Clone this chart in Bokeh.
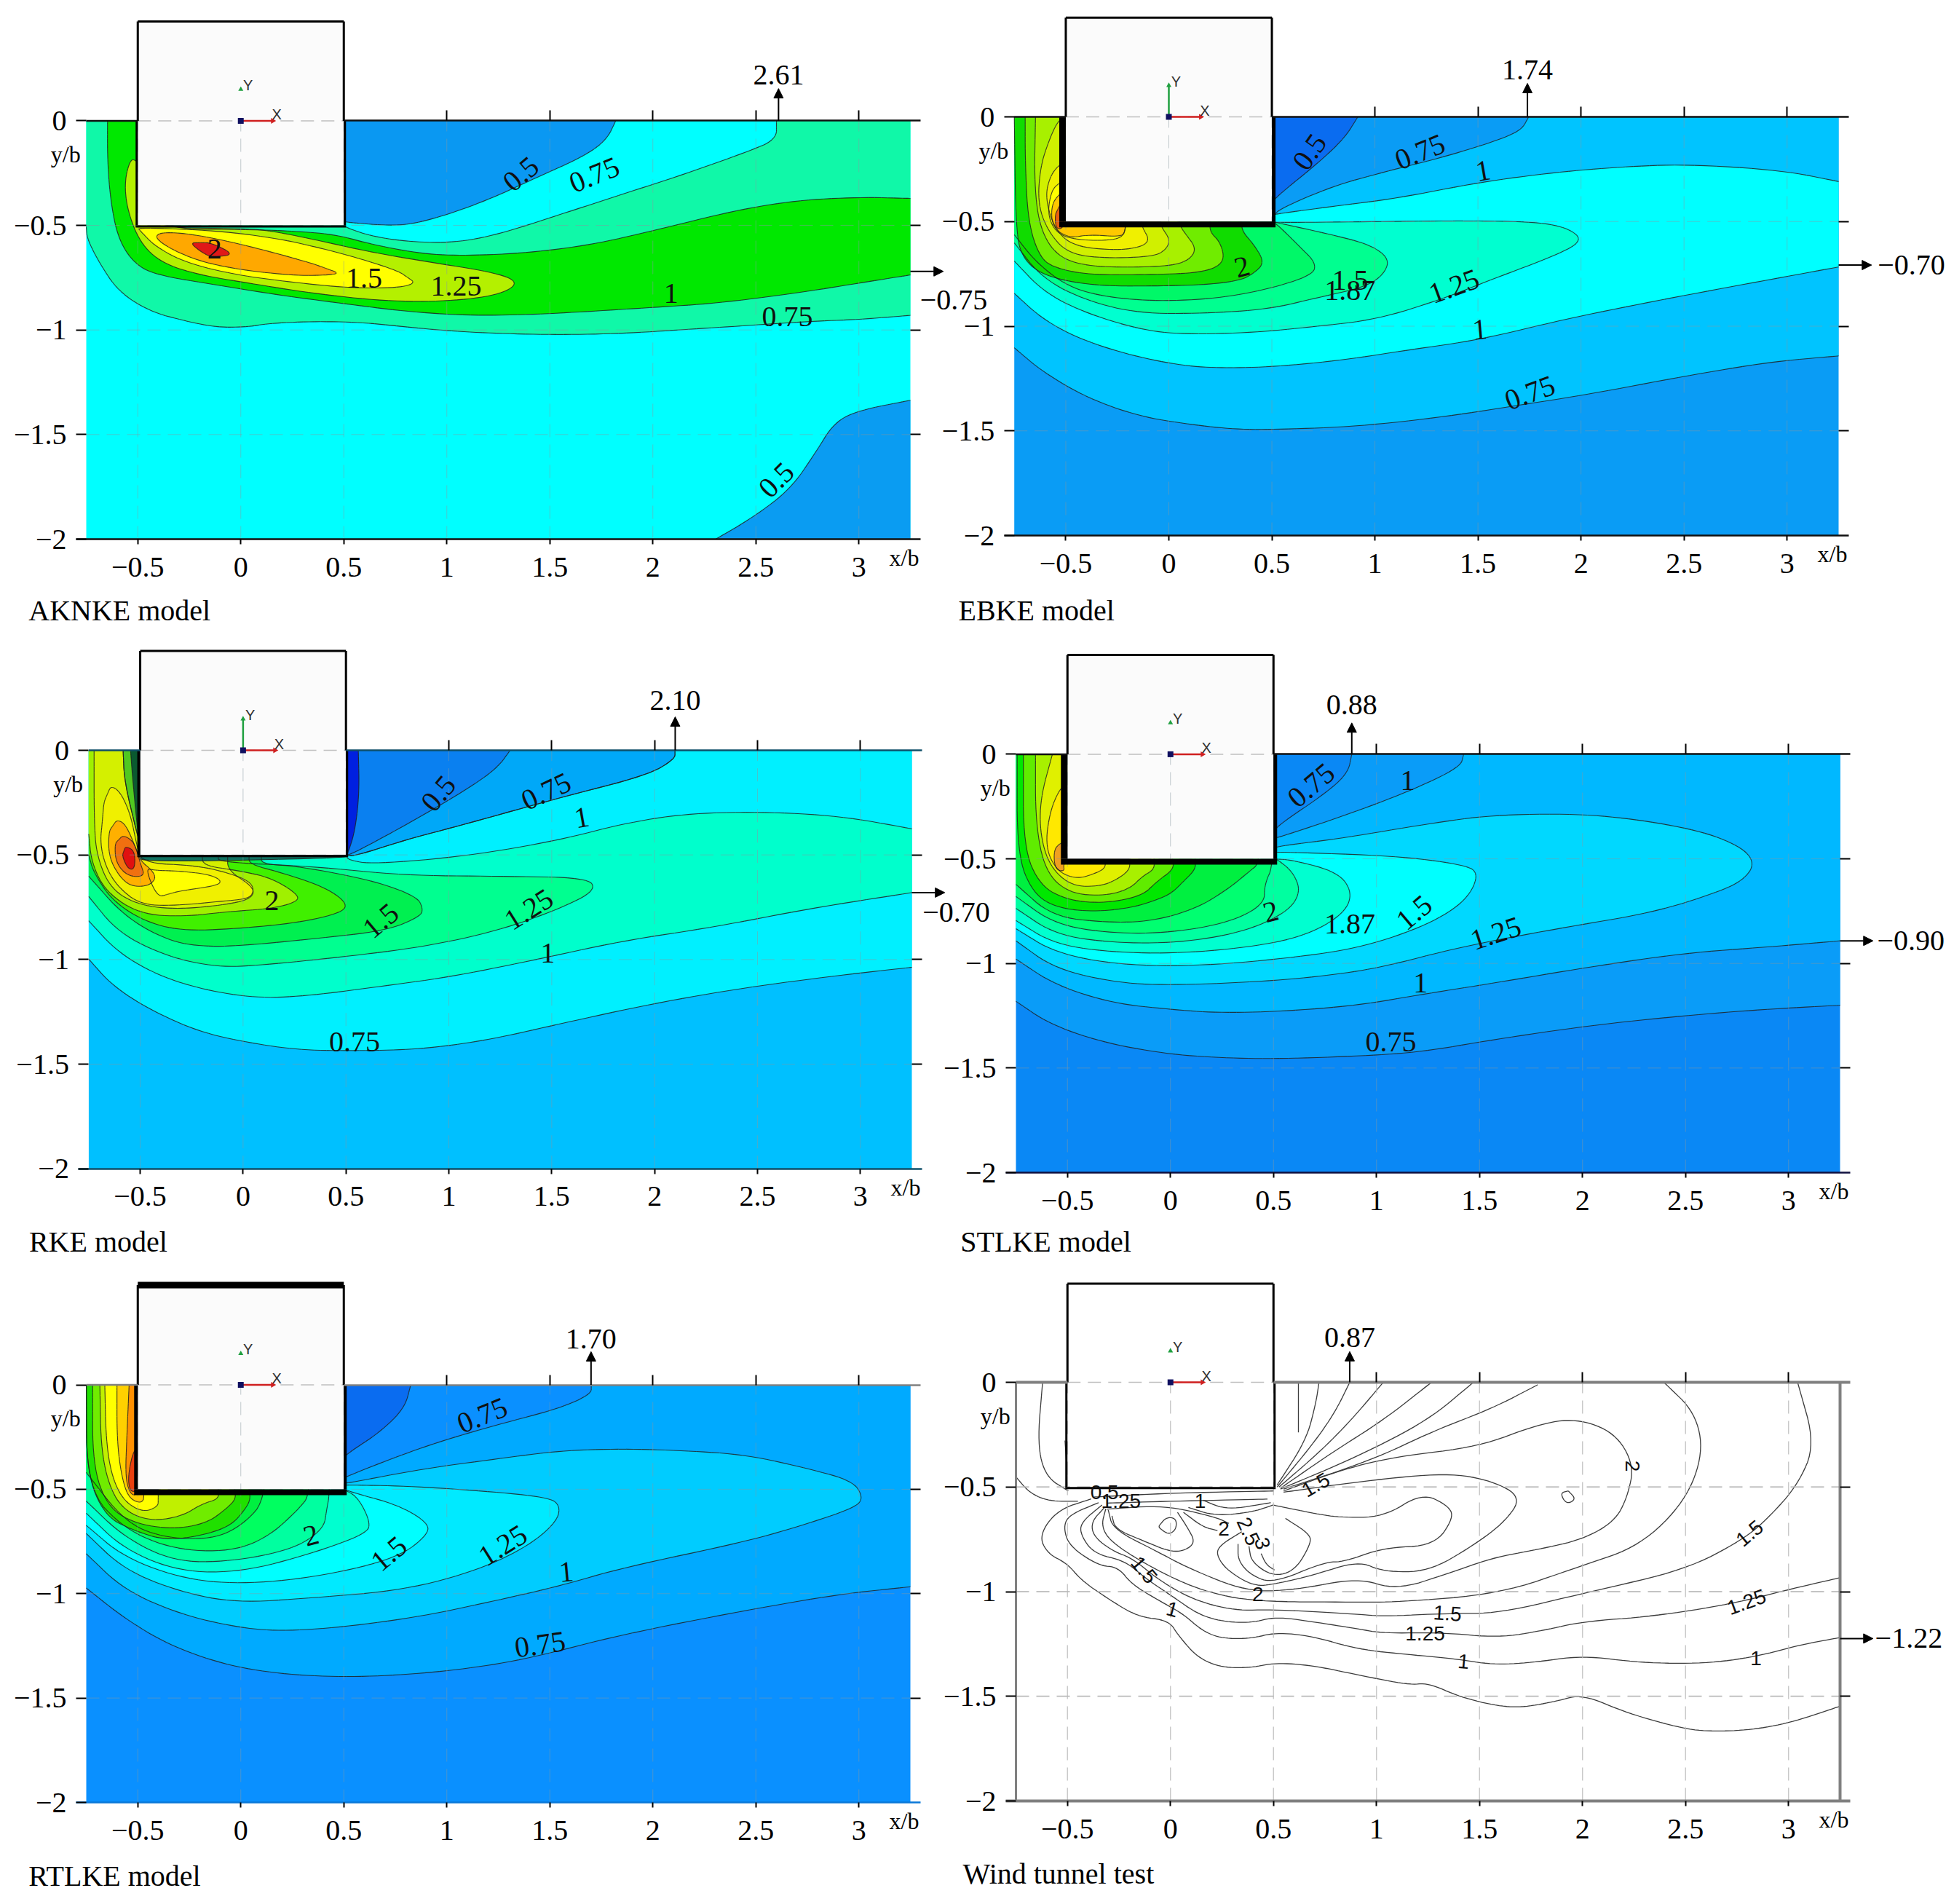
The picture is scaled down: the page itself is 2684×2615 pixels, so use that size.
from bokeh.plotting import figure
from bokeh.layouts import row, column
from bokeh.models import Range1d, LinearAxis, FixedTicker, Arrow, NormalHead
from bokeh.core.properties import value
from bokeh.embed import file_html
from bokeh.resources import INLINE

# ------------------------------------------------------------------ values
X_TICKS = [-0.5, 0, 0.5, 1, 1.5, 2, 2.5, 3]
Y_TICKS = [0, -0.5, -1, -1.5, -2]
X_TICK_TEXT = ["\u22120.5", "0", "0.5", "1", "1.5", "2", "2.5", "3"]
Y_TICK_TEXT = ["0", "\u22120.5", "\u22121", "\u22121.5", "\u22122"]

# AKNKE
P1_BLUE_TOP = [(1.82,0),(1.776,-.09),(1.67,-.168),(1.43,-.274),(1.217,-.371),(1.006,-.448),(.825,-.496),(.70,-.50),(.52,-.486),(.5,-.48),(.5,0)]
P1_BLUE_BOT = [(2.305,-2),(2.486,-1.896),(2.668,-1.761),(2.789,-1.587),(2.88,-1.442),(3.0,-1.384),(3.25,-1.336),(3.25,-2)]
P1_075 = [(2.6,0),(3.25,0),(3.25,-.93),(3,-.95),(2.758,-.959),(2.456,-.979),(2.154,-.998),(1.852,-1.017),(1.55,-1.023),(1.248,-1.017),(1.006,-1.004),(.795,-.985),(.583,-.963),(.341,-.959),(.13,-.969),(.039,-.985),(-.112,-.988),(-.263,-.959),(-.444,-.911),(-.595,-.815),(-.686,-.68),(-.746,-.564),(-.75,-.506),(-.75,0),(.5,0),(.5,-.5),(.523,-.515),(.644,-.554),(.825,-.579),(1.036,-.583),(1.248,-.544),(1.55,-.448),(1.852,-.351),(2.154,-.255),(2.456,-.149),(2.6,-.09)]
P1_100 = [(-.5,0),(-.5,-.515),(.1,-.521),(.281,-.529),(.462,-.544),(.644,-.593),(.885,-.637),(1.097,-.645),(1.399,-.631),(1.701,-.593),(2.003,-.525),(2.396,-.429),(2.698,-.38),(3,-.365),(3.25,-.371),(3.25,-.737),(3,-.776),(2.698,-.824),(2.305,-.873),(2.003,-.892),(1.701,-.911),(1.399,-.927),(1.097,-.931),(.795,-.911),(.492,-.873),(.19,-.834),(-.112,-.786),(-.414,-.737),(-.52,-.68),(-.595,-.564),(-.631,-.39),(-.647,-.197),(-.647,0)]
P1_125 = [(1.353,-.776),(1.248,-.728),(.946,-.68),(.644,-.631),(.341,-.564),(.16,-.529),(.039,-.515),(-.5,-.51),(-.5,-.197),(-.535,-.178),(-.565,-.293),(-.55,-.429),(-.489,-.583),(-.384,-.68),(-.202,-.737),(.039,-.776),(.341,-.824),(.704,-.863),(1.006,-.863),(1.248,-.834)]
P1_150 = [(.849,-.776),(.764,-.718),(.583,-.66),(.402,-.612),(.19,-.564),(-.112,-.525),(-.5,-.51),(-.489,-.525),(-.414,-.602),(-.263,-.68),(-.021,-.737),(.251,-.772),(.523,-.799),(.764,-.799)]
P1_175 = [(.477,-.728),(.341,-.68),(.13,-.622),(-.112,-.564),(-.293,-.535),(-.399,-.535),(-.414,-.564),(-.323,-.622),(-.172,-.68),(.039,-.718),(.281,-.741),(.432,-.737)]
P1_200 = [(-.248,-.583),(-.142,-.583),(-.027,-.641),(-.142,-.651),(-.187,-.631)]

# EBKE
P2_DARK = [(.5,0),(.917,0),(.854,-.1),(.73,-.216),(.511,-.39),(.5,-.42)]
P2_075 = [(1.746,0),(3.25,0),(3.25,-1.142),(2.912,-1.171),(2.507,-1.238),(2.039,-1.325),(1.727,-1.373),(1.353,-1.431),(.917,-1.479),(.542,-1.493),(.324,-1.493),(.106,-1.47),(-.143,-1.431),(-.393,-1.344),(-.611,-1.219),(-.75,-1.103),(-.75,0),(.5,0),(.5,-.47),(.51,-.47),(.542,-.438),(.792,-.332),(1.041,-.264),(1.353,-.187),(1.602,-.11),(1.712,-.062)]
P2_100 = [(-.75,0),(-.75,-.843),(-.611,-.968),(-.424,-1.065),(-.175,-1.142),(.075,-1.19),(.262,-1.2),(.511,-1.194),(.854,-1.161),(1.166,-1.113),(1.509,-1.065),(1.914,-.968),(2.351,-.881),(2.818,-.795),(3.25,-.717),(3.25,-.309),(2.974,-.255),(2.507,-.226),(2.195,-.239),(1.883,-.264),(1.509,-.312),(1.104,-.39),(.792,-.428),(.527,-.463),(.5,-.47),(.5,0)]
P2_125 = [(-.75,0),(-.75,-.689),(-.611,-.833),(-.424,-.93),(-.143,-1.016),(.075,-1.04),(.418,-1.03),(.698,-1.003),(1.01,-.968),(1.322,-.872),(1.571,-.775),(1.883,-.66),(2.008,-.592),(1.945,-.534),(1.79,-.501),(1.415,-.496),(.948,-.501),(.527,-.505),(.5,-.5),(.5,0)]
P2_150 = [(-.75,0),(-.75,-.602),(-.611,-.775),(-.393,-.881),(-.143,-.939),(.168,-.939),(.48,-.92),(.73,-.862),(.948,-.814),(1.041,-.756),(1.072,-.679),(.979,-.611),(.792,-.563),(.542,-.509),(.5,-.5),(.5,0)]
P2_187 = [(-.75,0),(-.75,-.563),(-.642,-.698),(-.486,-.814),(-.299,-.862),(-.05,-.881),(.231,-.868),(.48,-.824),(.698,-.756),(.714,-.698),(.636,-.621),(.527,-.515),(.5,-.5),(.5,0)]
P2_200 = [(-.75,0),(-.742,-.562),(-.706,-.678),(-.624,-.748),(-.483,-.788),(-.306,-.808),(-.07,-.808),(.165,-.803),(.342,-.783),(.412,-.748),(.465,-.696),(.412,-.609),(.359,-.551),(.35,-.5),(.35,0)]
P2_225 = [(-.697,0),(-.697,-.215),(-.683,-.504),(-.624,-.678),(-.541,-.725),(-.388,-.754),(-.129,-.754),(.106,-.748),(.224,-.725),(.271,-.678),(.248,-.597),(.2,-.551),(.2,-.5),(.2,0)]
P2_250 = [(-.647,0),(-.653,-.33),(-.624,-.539),(-.541,-.667),(-.4,-.713),(-.188,-.719),(.024,-.711),(.106,-.678),(.132,-.626),(.083,-.562),(.059,-.528),(.05,-.5),(.05,0)]
P2_265 = [(-.5,0),(-.536,-.017),(-.577,-.1),(-.624,-.238),(-.636,-.423),(-.577,-.562),(-.483,-.655),(-.306,-.676),(-.07,-.667),(-.012,-.632),(.006,-.586),(-.035,-.528),(-.04,-.5),(-.5,-.5)]
P2_275 = [(-.5,-.226),(-.53,-.226),(-.577,-.284),(-.6,-.388),(-.553,-.539),(-.459,-.62),(-.247,-.638),(-.129,-.62),(-.094,-.586),(-.129,-.528),(-.13,-.5),(-.5,-.5)]
P2_300 = [(-.5,-.313),(-.53,-.313),(-.571,-.354),(-.589,-.47),(-.541,-.562),(-.424,-.591),(-.247,-.588),(-.212,-.551),(-.21,-.5),(-.5,-.5)]
P2_325 = [(-.5,-.365),(-.53,-.365),(-.571,-.423),(-.565,-.528),(-.483,-.58),(-.388,-.562),(-.224,-.574),(-.212,-.539),(-.21,-.5),(-.5,-.5)]
P2_350 = [(-.524,-.412),(-.553,-.47),(-.547,-.539),(-.506,-.528)]

# RKE
P3_TOP_A = [(2.099,0),(2.099,-.042),(1.963,-.12),(1.54,-.226),(1.087,-.351),(.785,-.429),(.543,-.506),(.5,-.5),(.5,0)]
P3_TOP_B = [(1.298,0),(1.238,-.081),(1.117,-.168),(.905,-.293),(.694,-.409),(.527,-.496),(.5,-.5),(.5,0)]
P3_TOP_C = [(.5,0),(.56,0),(.565,-.2),(.545,-.38),(.512,-.486),(.5,-.5)]
P3_075 = [(2.099,0),(3.25,0),(3.25,-1.037),(2.9,-1.075),(2.446,-1.133),(1.993,-1.21),(1.54,-1.307),(1.238,-1.375),(.996,-1.413),(.784,-1.432),(.512,-1.436),(.27,-1.432),(.029,-1.398),(-.213,-1.346),(-.455,-1.239),(-.636,-1.124),(-.75,-.998),(-.75,0),(.5,0),(.5,-.5),(.543,-.506),(.785,-.429),(1.087,-.351),(1.54,-.226),(1.963,-.12),(2.099,-.042)]
P3_100 = [(-.75,0),(-.75,-.815),(-.606,-.969),(-.394,-1.085),(-.153,-1.153),(.089,-1.185),(.331,-1.172),(.633,-1.133),(.996,-1.085),(1.389,-1.008),(1.842,-.911),(2.295,-.844),(2.749,-.757),(3.25,-.68),(3.25,-.375),(2.9,-.313),(2.507,-.293),(2.144,-.303),(1.842,-.351),(1.54,-.429),(1.087,-.506),(.633,-.544),(.512,-.525),(.5,-.5),(.5,0)]
P3_125 = [(-.75,0),(-.75,-.699),(-.606,-.873),(-.364,-.988),(-.122,-1.037),(.089,-1.027),(.482,-.988),(.875,-.94),(1.238,-.863),(1.54,-.757),(1.715,-.67),(1.676,-.608),(1.238,-.602),(.784,-.598),(.331,-.554),(-.122,-.535),(-.12,-.5),(-.12,0)]
P3_150 = [(-.75,0),(-.75,-.602),(-.576,-.795),(-.364,-.911),(-.183,-.94),(.029,-.931),(.331,-.902),(.694,-.863),(.86,-.795),(.875,-.757),(.845,-.699),(.633,-.622),(.27,-.554),(.089,-.544),(.089,-.5),(.089,0)]
P3_175 = [(-.75,0),(-.75,-.5),(-.727,-.583),(-.636,-.718),(-.485,-.815),(-.304,-.863),(-.032,-.853),(.27,-.824),(.482,-.776),(.506,-.728),(.391,-.651),(.18,-.583),(.029,-.544),(.029,-.5),(.029,0)]
P3_200 = [(-.75,0),(-.75,-.4),(-.736,-.539),(-.665,-.679),(-.5,-.783),(-.288,-.795),(-.075,-.771),(.137,-.757),(.261,-.725),(.269,-.69),(.137,-.609),(-.028,-.574),(-.193,-.551),(-.2,-.5),(-.2,0)]
P3_225 = [(-.724,0),(-.724,-.331),(-.712,-.505),(-.641,-.667),(-.5,-.742),(-.311,-.76),(-.075,-.737),(.043,-.708),(.054,-.655),(-.075,-.574),(-.075,-.5),(-.5,-.5),(-.5,-.45),(-.524,-.365),(-.577,-.145),(-.583,0)]
P3_STRIP = [(-.583,0),(-.577,-.145),(-.524,-.365),(-.5,-.45),(-.5,0)]
P3_DARK = [(-.547,0),(-.535,-.157),(-.506,-.447),(-.5,-.45),(-.5,0)]
P3_LOBE_A = [(-.641,-.168),(-.677,-.249),(-.683,-.331),(-.695,-.447),(-.665,-.563),(-.606,-.655),(-.5,-.737),(-.335,-.743),(-.075,-.719),(.031,-.708),(.054,-.667),(.031,-.627),(-.052,-.592),(-.217,-.551),(-.494,-.539),(-.518,-.447),(-.547,-.307),(-.594,-.203)]
P3_LOBE_B = [(-.417,-.702),(-.311,-.673),(-.123,-.646),(-.105,-.621),(-.17,-.592),(-.311,-.577),(-.429,-.574),(-.476,-.563)]
P3_ORANGE = [(-.612,-.331),(-.653,-.389),(-.653,-.505),(-.606,-.597),(-.547,-.65),(-.465,-.65),(-.423,-.615),(-.441,-.574),(-.5,-.528),(-.529,-.447),(-.571,-.354)]
P3_DEEP = [(-.583,-.406),(-.624,-.447),(-.618,-.539),(-.559,-.603),(-.476,-.603),(-.5,-.539),(-.518,-.47),(-.541,-.429)]
P3_RED = [(-.571,-.458),(-.588,-.505),(-.559,-.568),(-.526,-.568),(-.526,-.481)]
P3_UNDER = [(-.5,-.5),(.5,-.5),(.5,-.515),(-.5,-.535)]

# STLKE
P4_075 = [(.88,0),(3.25,0),(3.25,-1.2),(2.874,-1.22),(2.499,-1.249),(2.031,-1.297),(1.563,-1.365),(1.22,-1.423),(.939,-1.442),(.534,-1.456),(.253,-1.452),(-.028,-1.432),(-.34,-1.375),(-.59,-1.288),(-.75,-1.181),(-.75,0),(.5,0),(.5,-.37),(.534,-.332),(.752,-.187),(.861,-.091)]
P4_100 = [(1.423,0),(3.25,0),(3.25,-.892),(2.905,-.921),(2.499,-.95),(2.031,-1.017),(1.563,-1.095),(1.251,-1.143),(.908,-1.201),(.534,-1.23),(.222,-1.236),(.003,-1.22),(-.278,-1.191),(-.559,-1.104),(-.75,-.979),(-.75,0),(.5,0),(.5,-.4),(.518,-.4),(.846,-.293),(1.158,-.178),(1.407,-.062)]
P4_125 = [(-.75,0),(-.75,-.892),(-.559,-1.027),(-.246,-1.095),(.034,-1.104),(.471,-1.085),(.783,-1.056),(1.033,-1.017),(1.407,-.921),(1.875,-.834),(2.343,-.757),(2.655,-.66),(2.78,-.602),(2.836,-.525),(2.78,-.448),(2.593,-.371),(2.281,-.313),(1.969,-.284),(1.563,-.29),(1.251,-.332),(.846,-.4),(.534,-.438),(.5,-.45),(.5,0)]
P4_150 = [(-.75,0),(-.75,-.834),(-.559,-.95),(-.246,-1.008),(.159,-1.012),(.627,-.969),(.939,-.921),(1.251,-.815),(1.438,-.699),(1.501,-.564),(1.407,-.525),(1.095,-.486),(.534,-.467),(.5,-.47),(.5,0)]
P4_187 = [(-.75,0),(-.75,-.795),(-.559,-.911),(-.246,-.95),(.097,-.95),(.471,-.911),(.69,-.853),(.846,-.757),(.883,-.66),(.814,-.564),(.596,-.506),(.5,-.5),(.5,0)]
P4_200 = [(-.75,0),(-.75,-.737),(-.559,-.863),(-.278,-.902),(.034,-.902),(.346,-.853),(.565,-.757),(.633,-.66),(.596,-.564),(.518,-.502),(.5,-.5),(.5,0)]
P4_225 = [(-.75,0),(-.75,-.68),(-.559,-.815),(-.278,-.857),(.003,-.853),(.284,-.805),(.456,-.718),(.456,-.622),(.502,-.525),(.5,0)]
P4_250 = [(-.75,0),(-.75,-.622),(-.574,-.776),(-.309,-.805),(-.09,-.799),(.128,-.737),(.284,-.641),(.378,-.564),(.44,-.515),(.44,0)]
P4_275 = [(-.744,0),(-.744,-.48),(-.667,-.666),(-.549,-.735),(-.373,-.753),(-.196,-.735),(-.078,-.7),(.004,-.666),(.063,-.608),(.122,-.55),(.12,-.5),(.12,0)]
P4_300 = [(-.714,0),(-.714,-.445),(-.632,-.631),(-.491,-.7),(-.314,-.712),(-.137,-.677),(-.066,-.608),(.016,-.55),(.01,-.5),(.01,0)]
P4_325 = [(-.655,0),(-.655,-.329),(-.608,-.561),(-.491,-.666),(-.314,-.677),(-.196,-.642),(-.137,-.584),(-.078,-.55),(-.08,-.5),(-.08,0)]
P4_350 = [(-.573,0),(-.632,-.213),(-.632,-.387),(-.585,-.538),(-.479,-.631),(-.337,-.631),(-.255,-.596),(-.196,-.55),(-.2,-.5),(-.5,-.5),(-.5,0)]
P4_375 = [(-.5,-.155),(-.532,-.155),(-.585,-.271),(-.608,-.445),(-.549,-.561),(-.455,-.596),(-.373,-.573),(-.314,-.544),(-.32,-.5),(-.5,-.5)]
P4_400 = [(-.5,-.42),(-.532,-.422),(-.567,-.457),(-.561,-.55),(-.514,-.561),(-.52,-.527),(-.5,-.5)]

# RTLKE
P5_DARK = [(.5,0),(.825,0),(.795,-.112),(.674,-.228),(.523,-.325),(.5,-.35)]
P5_075 = [(1.701,0),(3.25,0),(3.25,-.967),(2.909,-1.002),(2.456,-1.079),(1.852,-1.195),(1.399,-1.311),(1.097,-1.36),(.795,-1.389),(.492,-1.4),(.19,-1.385),(-.082,-1.34),(-.353,-1.244),(-.565,-1.118),(-.75,-.973),(-.75,0),(.5,0),(.5,-.45),(.508,-.441),(.704,-.364),(.946,-.277),(1.248,-.19),(1.55,-.112),(1.701,-.044)]
P5_100 = [(-.75,0),(-.75,-.809),(-.565,-.983),(-.293,-1.099),(-.021,-1.161),(.19,-1.18),(.492,-1.161),(.885,-1.108),(1.248,-1.031),(1.55,-.963),(1.852,-.876),(2.456,-.75),(2.758,-.663),(2.985,-.586),(3.021,-.538),(2.97,-.46),(2.758,-.402),(2.456,-.335),(2.154,-.315),(1.852,-.306),(1.55,-.315),(1.248,-.354),(.885,-.402),(.523,-.47),(.5,-.47),(.5,0)]
P5_125 = [(-.75,0),(-.75,-.712),(-.565,-.886),(-.293,-.992),(-.021,-1.044),(.341,-1.021),(.795,-.983),(1.157,-.886),(1.399,-.77),(1.535,-.654),(1.55,-.576),(1.489,-.538),(1.187,-.509),(.795,-.484),(.523,-.48),(.5,-.48),(.5,0)]
P5_150 = [(-.75,0),(-.75,-.673),(-.565,-.828),(-.263,-.934),(.039,-.954),(.402,-.915),(.764,-.828),(.915,-.712),(.9,-.654),(.764,-.576),(.553,-.518),(.5,-.5),(.5,0)]
P5_175 = [(-.75,0),(-.75,-.615),(-.565,-.789),(-.293,-.896),(.009,-.896),(.341,-.809),(.613,-.712),(.628,-.654),(.568,-.538),(.5,-.5),(.5,0)]
P5_200 = [(-.75,0),(-.75,-.557),(-.565,-.731),(-.323,-.847),(-.051,-.847),(.251,-.789),(.402,-.692),(.417,-.596),(.432,-.518),(.432,0)]
P5_225 = [(-.75,0),(-.746,-.499),(-.565,-.692),(-.323,-.789),(-.051,-.799),(.13,-.731),(.281,-.596),(.341,-.518),(.341,0)]
P5_250 = [(-.75,0),(-.75,-.42),(-.565,-.654),(-.384,-.731),(-.142,-.741),(.009,-.673),(.13,-.538),(.13,0)]
P5_275 = [(-.749,0),(-.749,-.419),(-.66,-.629),(-.519,-.698),(-.366,-.745),(-.189,-.722),(-.048,-.675),(.023,-.594),(.047,-.547),(.04,-.5),(.04,0)]
P5_300 = [(-.719,0),(-.719,-.384),(-.648,-.582),(-.519,-.663),(-.33,-.692),(-.166,-.663),(-.071,-.594),(-.024,-.547),(-.03,-.5),(-.03,0)]
P5_325 = [(-.684,0),(-.678,-.326),(-.625,-.524),(-.542,-.617),(-.425,-.652),(-.283,-.628),(-.189,-.57),(-.107,-.547),(-.11,-.5),(-.11,0)]
P5_350 = [(-.66,0),(-.654,-.268),(-.625,-.443),(-.566,-.559),(-.472,-.611),(-.401,-.582),(-.401,-.547),(-.4,-.5),(-.5,-.5),(-.5,0)]
P5_375 = [(-.601,0),(-.601,-.268),(-.578,-.443),(-.542,-.547),(-.472,-.57),(-.47,-.5),(-.5,-.5),(-.5,0)]
P5_400 = [(-.542,0),(-.554,-.268),(-.56,-.443),(-.537,-.524),(-.5,-.53),(-.5,0)]
P5_425 = [(-.5,-.3),(-.525,-.326),(-.548,-.443),(-.537,-.512),(-.5,-.51)]

# Wind tunnel contour lines
W_A = [(-.385,-.557),(-.549,-.61),(-.638,-.731),(-.597,-.818),(-.502,-.865),(-.432,-.946),(-.314,-1.027),(-.161,-1.12),(-.008,-1.137),(.04,-1.212),(.134,-1.317),(.251,-1.363),(.393,-1.363),(.51,-1.34),(.687,-1.352),(.911,-1.398),(1.158,-1.446),(1.251,-1.436),(1.407,-1.504),(1.594,-1.548),(1.719,-1.552),(1.875,-1.523),(2,-1.49),(2.218,-1.581),(2.499,-1.658),(2.655,-1.668),(2.842,-1.658),(3.03,-1.62),(3.248,-1.548)]
W_B = [(-.349,-.575),(-.491,-.633),(-.52,-.691),(-.491,-.783),(-.349,-.876),(-.255,-.882),(-.184,-.969),(-.031,-1.056),(.063,-1.108),(.157,-1.189),(.251,-1.224),(.393,-1.224),(.51,-1.195),(.687,-1.212),(.911,-1.276),(1.158,-1.301),(1.376,-1.32),(1.563,-1.349),(1.75,-1.34),(2,-1.305),(2.281,-1.34),(2.593,-1.344),(2.842,-1.311),(3.061,-1.253),(3.248,-1.22)]
W_C = [(-.332,-.586),(-.432,-.667),(-.438,-.725),(-.373,-.818),(-.22,-.853),(-.125,-.934),(.016,-1.027),(.134,-1.108),(.251,-1.143),(.393,-1.149),(.51,-1.12),(.687,-1.143),(.911,-1.178),(1.033,-1.199),(1.314,-1.195),(1.594,-1.22),(1.813,-1.185),(2,-1.143),(2.343,-1.118),(2.718,-1.06),(3.03,-.983),(3.248,-.934)]
W_D = [(3.045,-.004),(3.129,-.297),(3.045,-.49),(2.905,-.645),(2.78,-.751),(2.499,-.896),(2.031,-1.002),(1.594,-1.104),(1.345,-1.104),(1.033,-1.118),(.911,-1.108),(.51,-1.085),(.31,-1.091),(.11,-1.039),(-.055,-.946),(-.184,-.841),(-.279,-.807),(-.373,-.737),(-.385,-.667),(-.32,-.598)]
W_E = [(2.399,-.004),(2.546,-.143),(2.587,-.336),(2.499,-.568),(2.281,-.78),(2,-.876),(1.594,-1.012),(1.095,-1.05),(.911,-1.05),(.405,-1.048),(.157,-.998),(-.067,-.899),(-.279,-.772),(-.337,-.691),(-.314,-.604)]
W_S1 = [(.721,0),(.705,-.104),(.658,-.278),(.518,-.49)]
W_S2 = [(.87,0),(.799,-.143),(.69,-.297),(.518,-.5)]
W_S3 = [(1.033,0),(.877,-.181),(.721,-.336),(.527,-.5)]
W_S4 = [(1.267,0),(1.033,-.181),(.783,-.336),(.534,-.506)]
W_S5 = [(1.47,0),(1.251,-.181),(.908,-.355),(.534,-.51)]
W_S6 = [(1.782,-.012),(1.563,-.124),(1.282,-.23),(.97,-.375),(.549,-.51)]
W_F = [(.549,-.519),(.846,-.413),(1.095,-.355),(1.501,-.307),(1.782,-.201),(1.969,-.172),(2.156,-.239),(2.25,-.394),(2.218,-.548),(2.156,-.664),(2,-.751),(1.782,-.799),(1.563,-.838),(1.345,-.915),(1.095,-.992),(.911,-.934),(.605,-.992),(.369,-1.0),(.087,-.888),(-.067,-.807),(-.279,-.702),(-.302,-.61)]
W_G = [(.549,-.525),(.939,-.471),(1.345,-.432),(1.563,-.471),(1.704,-.548),(1.626,-.664),(1.47,-.78),(1.251,-.905),(1.033,-.905),(.911,-.853),(.687,-.923),(.51,-.963),(.405,-.975),(.275,-.899),(.222,-.824),(.24,-.778),(.346,-.714)]
W_H = [(.502,-.587),(.69,-.625),(.814,-.645),(1.033,-.645),(1.22,-.529),(1.345,-.587),(1.376,-.645),(1.282,-.78),(1.033,-.79),(.846,-.857),(.746,-.859),(.499,-.96),(.393,-.923),(.328,-.853),(.328,-.772)]
W_I = [(.381,-.783),(.393,-.859),(.499,-.928),(.605,-.899),(.681,-.772),(.676,-.725),(.558,-.65)]
W_I2 = [(.44,-.818),(.464,-.87),(.505,-.897)]
W_J = [(1.931,-.519),(1.969,-.558),(1.922,-.583),(1.891,-.529),(1.931,-.519)]
W_K = [(-.055,-.685),(-.02,-.644),(.028,-.65),(.028,-.702),(-.008,-.728),(-.055,-.696),(-.055,-.685)]
W_L = [(-.284,-.638),(-.267,-.702),(-.125,-.76),(-.008,-.807),(.063,-.807),(.122,-.766),(.081,-.691),(.034,-.621)]
W_M = [(-.621,-.004),(-.646,-.297),(-.605,-.452),(-.496,-.519)]
W_N = [(-.75,-.452),(-.683,-.529),(-.59,-.568),(-.449,-.568)]
W_O = [(-.512,-.278),(-.496,-.51)]
W_P = [(.621,-.004),(.621,-.239)]
W_Q = [(-.371,-.548),(.003,-.529),(.502,-.519)]
W_R = [(-.309,-.577),(.003,-.568),(.471,-.558)]
W_T = [(-.309,-.606),(-.028,-.587),(.222,-.645),(.284,-.674)]
W_U = [(.063,-.621),(.157,-.691),(.228,-.708)]
W_V = [(.087,-.598),(.216,-.638),(.393,-.621),(.499,-.586)]
W_X = [(.157,-.563),(.275,-.61),(.487,-.575)]

# contour labels: (x/b, y/b, text, angle)
P1_LABELS = [(1.36,-.255,"0.5",40),(1.716,-.259,"0.75",22),(-.127,-.612,"2",0),(.598,-.753,"1.5",0),(1.045,-.79,"1.25",0),(2.088,-.824,"1",0),(2.653,-.936,"0.75",0),(2.6,-1.718,"0.5",45)]
P2_LABELS = [(.683,-.168,"0.5",55),(1.219,-.168,"0.75",22),(1.525,-.258,"1",10),(.355,-.717,"2",15),(.88,-.78,"1.5",0),(.879,-.829,"1.87",0),(1.384,-.81,"1.25",20),(1.509,-1.016,"1",5),(1.752,-1.319,"0.75",20)]
P3_LABELS = [(.95,-.207,"0.5",50),(1.473,-.197,"0.75",25),(1.646,-.322,"1",10),(.14,-.718,"2",0),(.669,-.815,"1.5",40),(1.389,-.761,"1.25",32),(1.48,-.969,"1",0),(.542,-1.394,"0.75",0)]
P4_LABELS = [(.683,-.149,"0.75",40),(1.151,-.124,"1",0),(.487,-.753,"2",15),(.87,-.811,"1.87",0),(1.183,-.757,"1.5",40),(1.579,-.857,"1.25",18),(1.214,-1.095,"1",0),(1.07,-1.375,"0.75",0)]
P5_LABELS = [(1.172,-.147,"0.75",22),(.341,-.721,"2",15),(.719,-.809,"1.5",40),(1.272,-.77,"1.25",32),(1.58,-.896,"1",5),(1.453,-1.244,"0.75",8)]
P6_LABELS = [(.705,-.49,"1.5",30),(-.24,-.568,"1.25",0),(-.32,-.525,"0.5",0),(.144,-.568,"1",0),(.259,-.699,"2",0),(.378,-.712,"2.5",-65),(.446,-.77,"3",-75),(-.128,-.896,"1.5",-50),(.009,-1.085,"1",-15),(.424,-1.012,"2",0),(1.345,-1.104,"1.5",-4),(1.236,-1.199,"1.25",0),(1.423,-1.334,"1",-5),(2.842,-1.317,"1",0),(2.796,-1.05,"1.25",20),(2.811,-.722,"1.5",40),(2.243,-.4,"2",-90)]

# extreme-position annotations
UP_VALUES = [2.61, 1.74, 2.10, 0.88, 1.70, 0.87]
RIGHT_VALUES = [-0.75, -0.70, -0.70, -0.90, None, -1.22]
CAPTIONS = ["AKNKE model", "EBKE model", "RKE model", "STLKE model", "RTLKE model", "Wind tunnel test"]

# ------------------------------------------------------------------ styles and layout
SERIF = "Liberation Serif"
SANS = "Liberation Sans"
LEFT_CELL = (0, 1362)
RIGHT_CELL = (1282, 2680)
ROWS = [(0, 872), (872, 1737), (1737, 2599)]

PANELS = [
    dict(cal=(118, 1250, 165.4, 740), cell=LEFT_CELL, row=ROWS[0], base="#00ffff",
         bands=[("#0a98f2", P1_BLUE_TOP), ("#0a9cf2", P1_BLUE_BOT), ("#10f8a8", P1_075), ("#00e800", P1_100),
                ("#b4f000", P1_125), ("#ffff00", P1_150), ("#ffa800", P1_175), ("#e01818", P1_200)],
         labels=P1_LABELS, box=(3, 3, 3, 3), box_top=.475, green="dot", top_col="#101010", bot_col="#101010",
         up_tip=.154, up_text=.218, right_y=-.72, right_text=(3.46, -.858, "center"), caption=(-1.03, -2.341)),
    dict(cal=(1392.7, 2525, 160, 735), cell=RIGHT_CELL, row=ROWS[0], base="#0a9cf5",
         bands=[("#0a6cf0", P2_DARK), ("#00c4ff", P2_075), ("#00ffff", P2_100), ("#00ffd0", P2_125), ("#00ff90", P2_150),
                ("#00f868", P2_187), ("#10dc00", P2_200), ("#70ec00", P2_225), ("#a8f000", P2_250), ("#d0f000", P2_265),
                ("#f0f000", P2_275), ("#ffff00", P2_300), ("#ffc800", P2_325), ("#e86010", P2_350)],
         labels=P2_LABELS, box=(9, 5, 3, 8), box_top=.474, green="line", top_col="#101010", bot_col="#101010",
         up_tip=.16, up_text=.224, right_y=-.708, right_text=(3.44, -.708, "left"), caption=(-1.021, -2.358)),
    dict(cal=(121.4, 1252, 1030, 1604.7), cell=LEFT_CELL, row=ROWS[1], base="#00c0ff",
         bands=[("#00a8f8", P3_TOP_A), ("#00f0ff", P3_075), ("#0a80f0", P3_TOP_B), ("#0020e0", P3_TOP_C), ("#00ffcc", P3_100),
                ("#00ff90", P3_125), ("#00f050", P3_150), ("#40f000", P3_175), ("#a0f000", P3_200), ("#d4f000", P3_225),
                ("#50c820", P3_STRIP), ("#0a5a30", P3_DARK), ("#f0f000", P3_LOBE_A), ("#ffff00", P3_LOBE_B),
                ("#ffb000", P3_ORANGE), ("#f07010", P3_DEEP), ("#e01010", P3_RED), ("#107060", P3_UNDER)],
         labels=P3_LABELS, box=(4, 3, 3, 3), box_top=.475, green="line", top_col="#10506a", bot_col="#10506a",
         up_tip=.16, up_text=.237, right_y=-.68, right_text=(3.466, -.776, "center"), caption=(-1.04, -2.349)),
    dict(cal=(1395, 2527, 1035.4, 1610), cell=RIGHT_CELL, row=ROWS[1], base="#0a88f5",
         bands=[("#0a9cf8", P4_075), ("#00b8ff", P4_100), ("#00d8ff", P4_125), ("#00ffff", P4_150), ("#00ffd0", P4_187),
                ("#00ffa0", P4_200), ("#00ff70", P4_225), ("#00f040", P4_250), ("#00e800", P4_275), ("#60ec00", P4_300),
                ("#a8f000", P4_325), ("#e0f000", P4_350), ("#ffe800", P4_375), ("#f0a020", P4_400)],
         labels=P4_LABELS, box=(9, 5, 3, 8), box_top=.475, green="dot", top_col="#101010", bot_col="#101040",
         up_tip=.15, up_text=.237, right_y=-.892, right_text=(3.43, -.892, "left"), caption=(-1.019, -2.33)),
    dict(cal=(118, 1250, 1901.5, 2475), cell=LEFT_CELL, row=ROWS[2], base="#0a90ff",
         bands=[("#0a6cf0", P5_DARK), ("#00aaff", P5_075), ("#00ccff", P5_100), ("#00eaff", P5_125), ("#00ffff", P5_150),
                ("#00ffd0", P5_175), ("#00ffa0", P5_200), ("#00ff60", P5_225), ("#00f040", P5_250), ("#20e000", P5_275),
                ("#70ec00", P5_300), ("#c0f000", P5_325), ("#ffff00", P5_350), ("#ffd000", P5_375), ("#ff9000", P5_400),
                ("#e84010", P5_425)],
         labels=P5_LABELS, box=(5, 4, 9, 8), box_top=.478, green="dot", top_col="#808080", bot_col="#0a78d8",
         up_tip=.159, up_text=.22, right_y=None, right_text=None, caption=(-1.03, -2.352)),
    dict(cal=(1395, 2527, 1898, 2473), cell=RIGHT_CELL, row=ROWS[2], base=None, bands=[],
         labels=P6_LABELS, box=(3, 3, 3, 3), box_top=.471, green="dot", top_col="#808080", bot_col="#808080",
         up_tip=.147, up_text=.214, right_y=-1.224, right_text=(3.42, -1.224, "left"), caption=(-1.008, -2.348)),
]
WIND_LINES = [W_A, W_B, W_C, W_D, W_E, W_S1, W_S2, W_S3, W_S4, W_S5, W_S6, W_F, W_G, W_H, W_I, W_I2, W_J, W_K, W_L,
              W_M, W_N, W_O, W_P, W_Q, W_R, W_T, W_U, W_V, W_X]
NEG = "\u2212"


def is_fixed(q):
    """Points on the domain border or under the building stay as corners when a contour is drawn."""
    return q[0] in (-.75, 3.25) or q[1] in (0, -2) or (abs(q[0]) <= .5 and q[1] >= -.5)


def round_run(run, passes=3):
    """Corner-cut a contour run for drawing; both ends stay where they were read."""
    for _ in range(passes):
        out = [run[0]]
        for a, b in zip(run[:-1], run[1:]):
            out.append((.75 * a[0] + .25 * b[0], .75 * a[1] + .25 * b[1]))
            out.append((.25 * a[0] + .75 * b[0], .25 * a[1] + .75 * b[1]))
        out.append(run[-1])
        run = out
    return run


def round_band(poly):
    fixed = [k for k, q in enumerate(poly) if is_fixed(q)]
    if not fixed:
        mid = ((poly[0][0] + poly[1][0]) / 2, (poly[0][1] + poly[1][1]) / 2)
        return round_run([mid] + poly[1:] + [poly[0], mid])[:-1]
    out = []
    m = len(poly)
    for i0, i1 in zip(fixed, fixed[1:] + [fixed[0] + m]):
        run = [poly[k % m] for k in range(i0, i1 + 1)]
        out.extend(round_run(run)[:-1] if len(run) > 2 else run[:-1])
    return out


def outline(poly):
    """Contour pieces of a band: its edge without the stretches on the domain border."""
    xs, ys = [], []
    pts = poly + [poly[0]]
    for a, b in zip(pts[:-1], pts[1:]):
        on_border = (a[0] == b[0] and a[0] in (-.75, 3.25)) or (a[1] == b[1] and a[1] in (0, -2))
        if not on_border:
            xs.append([a[0], b[0]])
            ys.append([a[1], b[1]])
    return xs, ys


def build(i, P):
    xm, xr, y0, y2 = P["cal"]
    L, R = P["cell"]
    T, B = P["row"]
    sx = (xr - xm) / 4.0
    sy = (y2 - y0) / 2.0
    wind = i == 5
    p = figure(width=R - L, height=B - T, output_backend="svg", toolbar_location=None, tools="",
               x_axis_type=None, y_axis_type=None, min_border=0,
               x_range=Range1d(-.75 - (xm - L) / sx, 3.25 + (R - xr) / sx),
               y_range=Range1d(-2 - (B - y2) / sy, (y0 - T) / sy),
               margin=(0, 0, 0, -80) if i % 2 else 0)
    p.outline_line_color = None
    p.background_fill_alpha = 0
    p.border_fill_alpha = 0

    if P["base"]:
        p.quad(left=[-.75], right=[3.25], bottom=[-2], top=[0], fill_color=P["base"], line_color=None)
    rounded = [(c, round_band(q)) for c, q in P["bands"]]
    for color, poly in rounded:
        p.patch([q[0] for q in poly], [q[1] for q in poly], fill_color=color, line_color=None)
    for color, poly in rounded:
        xs, ys = outline(poly)
        p.multi_line(xs, ys, line_color="#202020", line_width=1.1, line_alpha=.85)
    if wind:
        curves = [round_run(c) for c in WIND_LINES]
        p.multi_line([[q[0] for q in c] for c in curves], [[q[1] for q in c] for c in curves],
                     line_color="#3c3c3c", line_width=1.3)

    # building section
    top = P["box_top"]
    p.quad(left=[-.5], right=[.5], bottom=[-.5], top=[top], fill_color="#ffffff" if wind else "#fbfbfb", line_color=None)

    # dashed grid, over the fill and the building
    grid_col = "#b8b8b8" if wind else "#8898a0"
    galpha = .85 if wind else .5
    p.segment(X_TICKS, [-2] * len(X_TICKS), X_TICKS, [0] * len(X_TICKS), line_color=grid_col, line_alpha=galpha,
              line_width=1.3 if wind else 1, line_dash="18 10")
    p.segment([-.75] * 3, Y_TICKS[1:4], [3.25] * 3, Y_TICKS[1:4], line_color=grid_col, line_alpha=galpha,
              line_width=2 if wind else 1, line_dash="18 10")
    p.segment([-.5], [0], [.5], [0], line_color="#c0c0c0", line_width=1.5, line_dash="18 10")

    # building outline: thin above the roof line y/b = 0, heavier along the section below it
    wl, wr, wt, wb = P["box"]
    p.segment([-.5, .5], [0, 0], [-.5, .5], [top, top], line_color="black", line_width=3)
    p.segment([-.5 - wl / 2 / sx], [-.5], [-.5 - wl / 2 / sx], [0], line_color="black", line_width=wl)
    p.segment([.5 + wr / 2 / sx], [-.5], [.5 + wr / 2 / sx], [0], line_color="black", line_width=wr)
    p.segment([-.5], [top], [.5], [top], line_color="black", line_width=wt)
    p.segment([-.5 - wl / sx], [-.5 - wb / 2 / sy], [.5 + wr / sx], [-.5 - wb / 2 / sy], line_color="black", line_width=wb)

    # axes: fixed at the data limits, so the frame can hold all annotations
    xa = LinearAxis(fixed_location=-2, ticker=FixedTicker(ticks=X_TICKS), bounds=(-.8, 3.3),
                    major_label_overrides=dict(zip(X_TICKS, X_TICK_TEXT)), major_tick_out=7, major_tick_in=0,
                    minor_tick_line_color=None, major_label_standoff=18, axis_line_width=4 if wind else 2.5,
                    axis_line_color=P["bot_col"], major_tick_line_width=2,
                    major_label_text_font=SERIF, major_label_text_font_size="40px", major_label_text_color="black")
    p.add_layout(xa, "below")
    ya = LinearAxis(fixed_location=-.75, ticker=FixedTicker(ticks=Y_TICKS), bounds=(-2, 0),
                    axis_line_color="#808080" if wind else None, axis_line_width=3,
                    major_label_overrides=dict(zip(Y_TICKS, Y_TICK_TEXT)), major_tick_out=14, major_tick_in=0,
                    minor_tick_line_color=None, major_label_standoff=13, major_tick_line_width=2,
                    major_label_text_font=SERIF, major_label_text_font_size="40px", major_label_text_color="black")
    p.add_layout(ya, "left")
    ta = LinearAxis(fixed_location=0, ticker=FixedTicker(ticks=X_TICKS[3:]), bounds=(.5, 3.3),
                    major_tick_out=14, major_tick_in=0, minor_tick_line_color=None, axis_line_width=4 if wind else 2.5,
                    axis_line_color=P["top_col"], major_tick_line_width=2,
                    major_label_text_color=None, major_label_text_font_size="1px")
    p.add_layout(ta, "above")
    ra = LinearAxis(fixed_location=3.25, ticker=FixedTicker(ticks=Y_TICKS[1:4]), bounds=(-2, 0),
                    axis_line_color="#808080" if wind else None,
                    axis_line_width=4, major_tick_out=14, major_tick_in=0, minor_tick_line_color=None,
                    major_tick_line_width=2, major_label_text_color=None, major_label_text_font_size="1px")
    p.add_layout(ra, "right")
    p.segment([-.75], [0], [-.5], [0], line_color=P["top_col"], line_width=4 if wind else 2.5)

    # coordinate triad at the origin
    p.segment([0], [0], [.155], [0], line_color="#d02020", line_width=2.5)
    p.scatter([.155], [0], marker="triangle", size=8, angle=-1.5708, fill_color="#d02020", line_color=None)
    if P["green"] == "line":
        p.segment([0], [0], [0], [.15], line_color="#20a040", line_width=2.5)
    p.scatter([0], [.15], marker="triangle", size=7, fill_color="#20a040", line_color=None)
    p.scatter([0], [0], marker="square", size=8, fill_color="#101060", line_color=None)
    p.text([.175], [.03], text=["X"], text_font=value(SANS), text_font_size="20px", text_color="#303030",
           text_align="center", text_baseline="middle")
    p.text([.035], [.17], text=["Y"], text_font=value(SANS), text_font_size="20px", text_color="#303030",
           text_align="center", text_baseline="middle")

    # contour labels
    lab = P["labels"]
    p.text([q[0] for q in lab], [q[1] for q in lab], text=[q[2] for q in lab], angle=[q[3] for q in lab], angle_units="deg",
           text_font=value(SANS if wind else SERIF), text_font_size="28px" if wind else "40px",
           text_color="#101010", text_align="center", text_baseline="middle")

    # extreme positions
    uv = UP_VALUES[i]
    p.add_layout(Arrow(end=NormalHead(size=13, fill_color="black", line_color="black"), x_start=uv, y_start=0,
                       x_end=uv, y_end=P["up_tip"], line_color="black", line_width=2))
    p.text([uv], [P["up_text"]], text=["%.2f" % uv], text_font=value(SERIF), text_font_size="40px",
           text_align="center", text_baseline="middle", text_color="black")
    rv = RIGHT_VALUES[i]
    if rv is not None:
        ry = P["right_y"]
        p.add_layout(Arrow(end=NormalHead(size=13, fill_color="black", line_color="black"), x_start=3.25, y_start=ry,
                           x_end=3.41, y_end=ry, line_color="black", line_width=2))
        tx, ty, al = P["right_text"]
        p.text([tx], [ty], text=[NEG + "%.2f" % abs(rv)], text_font=value(SERIF), text_font_size="40px",
               text_align=al, text_baseline="middle", text_color="black")

    p.text([-.85], [-.162], text=["y/b"], text_font=value(SERIF), text_font_size="32px", text_align="center",
           text_baseline="middle", text_color="black")
    p.text([3.22], [-2.09], text=["x/b"], text_font=value(SERIF), text_font_size="32px", text_align="center",
           text_baseline="middle", text_color="black")
    cx, cy = P["caption"]
    p.text([cx], [cy], text=[CAPTIONS[i]], text_font=value(SERIF), text_font_size="40px", text_align="left",
           text_baseline="middle", text_color="black")
    return p


figs = [build(i, P) for i, P in enumerate(PANELS)]
page = column(row(figs[0], figs[1], spacing=0), row(figs[2], figs[3], spacing=0), row(figs[4], figs[5], spacing=0), spacing=0)
open("out.html", "w").write(file_html(page, INLINE))
